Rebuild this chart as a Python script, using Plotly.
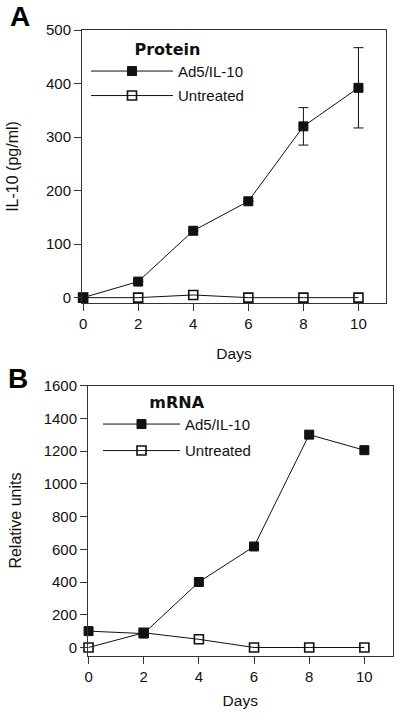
import plotly.graph_objects as go

days = [0, 2, 4, 6, 8, 10]
x_ticks = [0, 2, 4, 6, 8, 10]

# Panel A: protein (pg/ml)
protein_ad5 = [0, 30, 125, 180, 320, 392]
protein_ad5_err = [None, None, None, None, 35, 75]
protein_untreated = [0, 0, 5, 0, 0, 0]
yA_ticks = [0, 100, 200, 300, 400, 500]

# Panel B: mRNA (relative units)
mrna_ad5 = [100, 85, 400, 617, 1300, 1205]
mrna_untreated = [0, 90, 50, 0, 0, 0]
yB_ticks = [0, 200, 400, 600, 800, 1000, 1200, 1400, 1600]

FONT = "Liberation Sans, Arial, Helvetica, sans-serif"
TITLE_FONT = "DejaVu Sans, Liberation Sans, sans-serif"
INK = "#111111"

fig = go.Figure()

filled = dict(symbol="square", size=9, color=INK, line=dict(color=INK, width=1))
hollow = dict(symbol="square-open", size=9, color=INK, line=dict(color=INK, width=1.6))

fig.add_trace(go.Scatter(x=days, y=protein_ad5, mode="lines+markers", name="Ad5/IL-10",
                         line=dict(color=INK, width=1), marker=filled,
                         error_y=dict(type="data", array=protein_ad5_err, visible=True,
                                      color=INK, thickness=1, width=5),
                         xaxis="x", yaxis="y", legend="legend", legendgroup="a1", cliponaxis=False))
fig.add_trace(go.Scatter(x=days, y=protein_untreated, mode="lines+markers", name="Untreated",
                         line=dict(color=INK, width=1), marker=hollow,
                         xaxis="x", yaxis="y", legend="legend", legendgroup="a2", cliponaxis=False))
fig.add_trace(go.Scatter(x=days, y=mrna_ad5, mode="lines+markers", name="Ad5/IL-10",
                         line=dict(color=INK, width=1), marker=filled,
                         xaxis="x2", yaxis="y2", legend="legend2", legendgroup="b1", cliponaxis=False))
fig.add_trace(go.Scatter(x=days, y=mrna_untreated, mode="lines+markers", name="Untreated",
                         line=dict(color=INK, width=1), marker=hollow,
                         xaxis="x2", yaxis="y2", legend="legend2", legendgroup="b2", cliponaxis=False))

axis_common = dict(showgrid=False, zeroline=False, showline=True, linecolor="#333333", linewidth=1,
                   mirror=True, ticks="outside", ticklen=7, tickwidth=1, tickcolor="#333333",
                   automargin=False, tickfont=dict(family=FONT, size=15, color=INK))

W, H = 400, 716
fig.update_layout(
    width=W, height=H, margin=dict(l=0, r=0, t=0, b=0, pad=0, autoexpand=False),
    paper_bgcolor="white", plot_bgcolor="white",
    font=dict(family=FONT, size=15, color=INK),
    xaxis=dict(domain=[82 / W, 386 / W], range=[-0.04, 11], tickvals=x_ticks, anchor="y",
               title=dict(text="Days", standoff=17, font=dict(size=15.5)), **axis_common),
    yaxis=dict(domain=[1 - 303 / H, 1 - 30 / H], range=[-10, 500], tickvals=yA_ticks, anchor="x",
               title=dict(text="IL-10 (pg/ml)", standoff=23, font=dict(size=16)), **axis_common),
    xaxis2=dict(domain=[88 / W, 392.5 / W], range=[-0.02, 11.02], tickvals=x_ticks, anchor="y2",
                title=dict(text="Days", standoff=11, font=dict(size=15.5)), **axis_common),
    yaxis2=dict(domain=[1 - 655.7 / H, 1 - 385.5 / H], range=[-50, 1600], tickvals=yB_ticks, anchor="x2",
                title=dict(text="Relative units", standoff=18, font=dict(size=16)), **axis_common),
    legend=dict(x=86 / W, y=1 - 34 / H, xanchor="left", yanchor="top", bgcolor="rgba(0,0,0,0)",
                title=dict(text="<b>Protein</b>", side="top center",
                           font=dict(family=TITLE_FONT, size=16)),
                font=dict(family=FONT, size=15), tracegroupgap=2, itemwidth=82),
    legend2=dict(x=98 / W, y=1 - 387 / H, xanchor="left", yanchor="top", bgcolor="rgba(0,0,0,0)",
                 title=dict(text="<b>mRNA</b>", side="top center",
                            font=dict(family=TITLE_FONT, size=16)),
                 font=dict(family=FONT, size=15), tracegroupgap=4, itemwidth=77),
    annotations=[
        dict(text="<b>A</b>", x=20 / W, y=1 - 17 / H, xref="paper", yref="paper", showarrow=False,
             font=dict(family=FONT, size=28, color="black"), xanchor="center", yanchor="middle"),
        dict(text="<b>B</b>", x=18 / W, y=1 - 378 / H, xref="paper", yref="paper", showarrow=False,
             font=dict(family=FONT, size=28, color="black"), xanchor="center", yanchor="middle"),
    ],
)

fig.write_html("out.html", config={"displayModeBar": False},
               post_script="document.body.style.margin='0';document.body.style.padding='0';")
